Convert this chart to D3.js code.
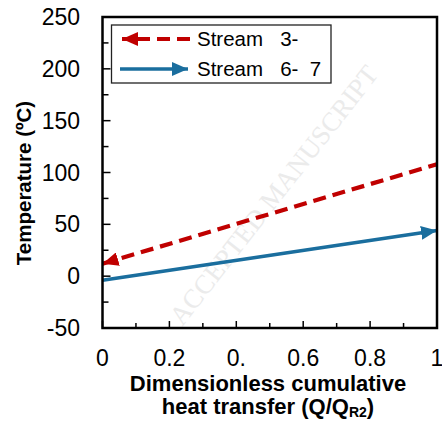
<!DOCTYPE html>
<html>
<head>
<meta charset="utf-8">
<title>Temperature vs heat transfer</title>
<script src="https://d3js.org/d3.v7.min.js"></script>
<style>
body { margin:0; background:#fff; font-family:Arial, "Liberation Sans", sans-serif; }
text { white-space: pre; }
</style>
</head>
<body>
<svg id="chart" width="442" height="424"></svg>
<script>
// data
var xVals = [0, 1];
var stream3 = [12, 108];   // dashed red, arrow points to Q=0
var stream67 = [-4, 44];   // solid blue, arrow points to Q=1
var seriesNames = ["Stream   3-", "Stream   6-  7"];
var xTickVals = [0, 0.2, 0.4, 0.6, 0.8, 1];
var xTickLabels = ["0", "0.2", "0.", "0.6", "0.8", "1"];
var yTickVals = [-50, 0, 50, 100, 150, 200, 250];

var red = "#C00000", blue = "#1A6E9E";

var svg = d3.select("#chart");
var pLeft = 102.5, pRight = 437, pTop = 17, pBottom = 328;

var x = d3.scaleLinear().domain([0, 1]).range([pLeft, pRight]);
var y = d3.scaleLinear().domain([-50, 250]).range([pBottom, pTop]);

// watermark
svg.append("text")
  .attr("transform", "translate(276,197) rotate(-52)")
  .attr("text-anchor", "middle")
  .attr("dominant-baseline", "middle")
  .style("font-family", "'Liberation Serif', serif")
  .style("font-size", "27px")
  .style("fill", "#ebebeb")
  .text("ACCEPTED MANUSCRIPT");

var defs = svg.append("defs");
function marker(id, color) {
  defs.append("marker")
    .attr("id", id)
    .attr("markerUnits", "userSpaceOnUse")
    .attr("viewBox", "0 0 16 14")
    .attr("refX", 16).attr("refY", 7)
    .attr("markerWidth", 16).attr("markerHeight", 14)
    .attr("orient", "auto-start-reverse")
    .append("path").attr("d", "M0,0 L16,7 L0,14 Z").attr("fill", color);
}
marker("arRed", red);
marker("arBlue", blue);

var line = d3.line().x(function(d) { return x(d[0]); }).y(function(d) { return y(d[1]); });

// minor + major ticks, pointing inward
var yMinor = d3.range(-50, 251, 25);
svg.selectAll(".ymin").data(yMinor).enter().append("line")
  .attr("x1", pLeft).attr("x2", function(d) { return pLeft + (d % 50 === 0 ? 8 : 6); })
  .attr("y1", function(d) { return y(d); }).attr("y2", function(d) { return y(d); })
  .attr("stroke", "#000").attr("stroke-width", 1.5);
var xMinor = d3.range(0, 11).map(function(i) { return i / 10; });
svg.selectAll(".xmin").data(xMinor).enter().append("line")
  .attr("x1", function(d) { return x(d); }).attr("x2", function(d) { return x(d); })
  .attr("y1", pBottom).attr("y2", function(d, i) { return pBottom - (i % 2 === 0 ? 7 : 5); })
  .attr("stroke", "#000").attr("stroke-width", 1.5);

// series
svg.append("path")
  .datum(xVals.map(function(v, i) { return [v, stream67[i]]; }))
  .attr("d", line).attr("fill", "none")
  .attr("stroke", blue).attr("stroke-width", 3.5)
  .attr("marker-end", "url(#arBlue)");
svg.append("path")
  .datum(xVals.map(function(v, i) { return [v, stream3[i]]; }))
  .attr("d", line).attr("fill", "none")
  .attr("stroke", red).attr("stroke-width", 4.2)
  .attr("stroke-dasharray", "13,7")
  .attr("marker-start", "url(#arRed)");

// frame
svg.append("rect")
  .attr("x", pLeft).attr("y", pTop)
  .attr("width", pRight - pLeft).attr("height", pBottom - pTop)
  .attr("fill", "none").attr("stroke", "#000").attr("stroke-width", 2.5);

// tick labels
svg.selectAll(".yl").data(yTickVals).enter().append("text")
  .attr("x", 80).attr("y", function(d) { return y(d); })
  .attr("dy", "0.35em").attr("text-anchor", "end")
  .style("font-size", "23px").text(function(d) { return d; });
svg.selectAll(".xl").data(xTickVals).enter().append("text")
  .attr("x", function(d) { return x(d); }).attr("y", 366)
  .attr("text-anchor", "middle")
  .style("font-size", "23px").text(function(d, i) { return xTickLabels[i]; });

// axis titles
svg.append("text")
  .attr("transform", "translate(31,183) rotate(-90)")
  .attr("text-anchor", "middle")
  .style("font-size", "20.5px").style("font-weight", "bold")
  .text("Temperature (ºC)");
svg.append("text")
  .attr("x", 268).attr("y", 391).attr("text-anchor", "middle")
  .style("font-size", "22px").style("font-weight", "bold")
  .text("Dimensionless cumulative");
var t2 = svg.append("text")
  .attr("x", 268).attr("y", 414).attr("text-anchor", "middle")
  .style("font-size", "22px").style("font-weight", "bold");
t2.append("tspan").text("heat transfer (Q/Q");
t2.append("tspan").attr("dy", 3).style("font-size", "14px").text("R2");
t2.append("tspan").attr("dy", -3).text(")");

// legend
var lg = svg.append("g");
lg.append("rect").attr("x", 111.5).attr("y", 25).attr("width", 219.5).attr("height", 58)
  .attr("fill", "#fff").attr("stroke", "#222").attr("stroke-width", 1.3);
lg.append("line").attr("x1", 190).attr("x2", 122).attr("y1", 39).attr("y2", 39)
  .attr("stroke", red).attr("stroke-width", 4.2).attr("stroke-dasharray", "13,7")
  .attr("marker-end", "url(#arRed)");
lg.append("line").attr("x1", 120).attr("x2", 188).attr("y1", 69).attr("y2", 69)
  .attr("stroke", blue).attr("stroke-width", 3.5)
  .attr("marker-end", "url(#arBlue)");
lg.selectAll(".lt").data(seriesNames).enter().append("text")
  .attr("x", 197).attr("y", function(d, i) { return 46 + i * 30; })
  .style("font-size", "20.5px").text(function(d) { return d; });
</script>
</body>
</html>
